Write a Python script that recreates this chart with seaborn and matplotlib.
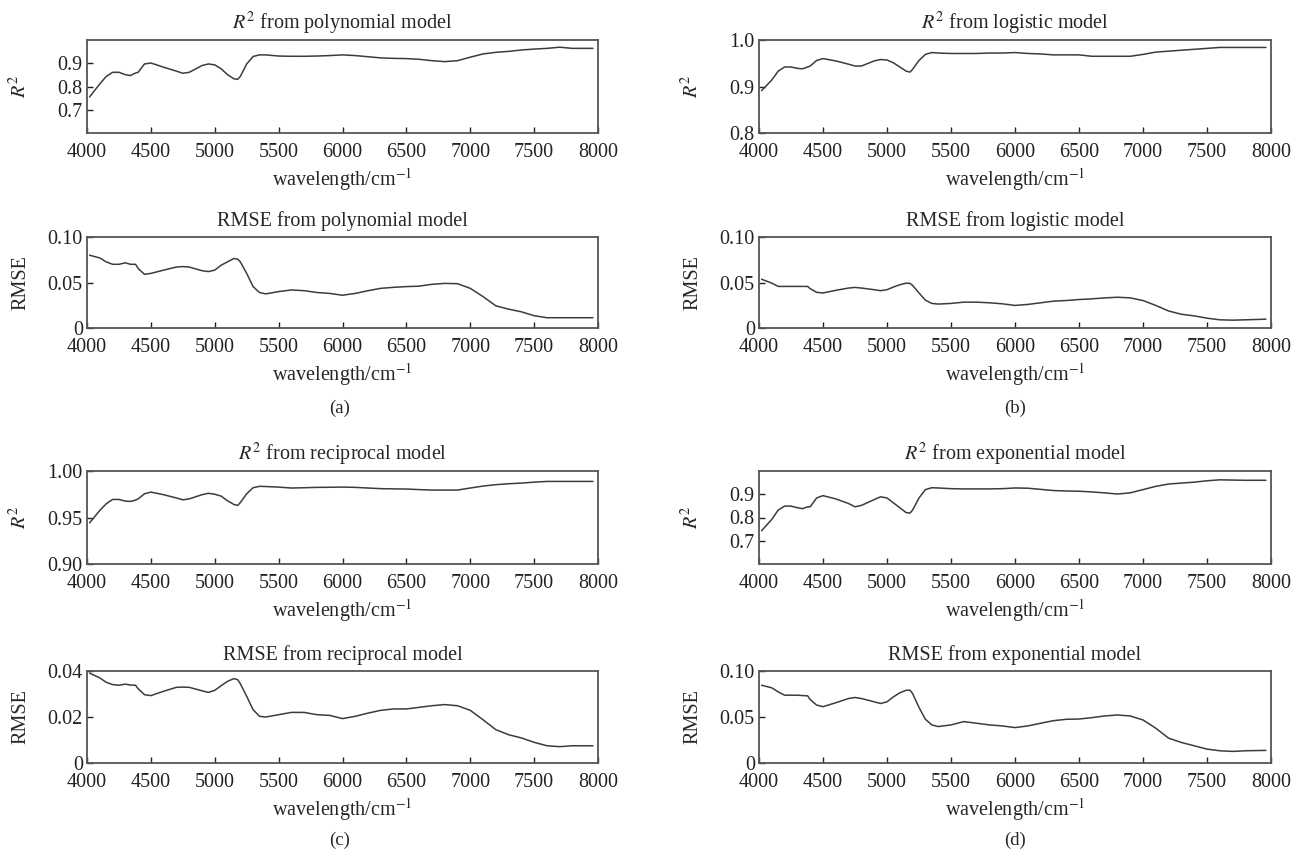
import matplotlib
matplotlib.use("Agg")
import matplotlib.pyplot as plt
import seaborn as sns
import pandas as pd

# ---------------- data ----------------
wavelength = [4020, 4100, 4150, 4200, 4250, 4300, 4340, 4380, 4400, 4450, 4500, 4600,
              4700, 4750, 4800, 4900, 4950, 5000, 5050, 5100, 5150, 5180, 5200, 5250,
              5300, 5350, 5400, 5500, 5600, 5700, 5800, 5900, 6000, 6100, 6200, 6300,
              6400, 6500, 6600, 6700, 6800, 6900, 7000, 7100, 7200, 7300, 7400, 7500,
              7600, 7700, 7800, 7960]

r2_polynomial = [.755, .811, .843, .861, .861, .851, .847, .858, .861, .897, .901, .883,
                 .866, .857, .861, .890, .897, .893, .876, .851, .833, .831, .843, .897,
                 .929, .936, .936, .931, .930, .930, .931, .933, .936, .933, .928, .923,
                 .921, .920, .917, .911, .907, .911, .926, .940, .947, .951, .957, .961,
                 .964, .969, .964, .964]
rmse_polynomial = [.080, .077, .0727, .070, .070, .0716, .070, .070, .0655, .059, .060, .0636,
                   .067, .0675, .067, .063, .062, .0636, .069, .0727, .0764, .0756, .0727, .060,
                   .0455, .039, .0375, .040, .0418, .041, .039, .038, .036, .038, .041, .0436,
                   .0447, .0455, .046, .048, .049, .0487, .0436, .0345, .0244, .0207, .0178, .0135,
                   .0113, .0113, .0113, .0113]

r2_logistic = [.891, .914, .933, .942, .942, .939, .938, .942, .944, .956, .960, .955,
               .948, .944, .944, .955, .958, .957, .951, .942, .933, .931, .937, .956,
               .969, .973, .972, .971, .971, .971, .972, .972, .973, .971, .970, .968,
               .968, .968, .965, .965, .965, .965, .969, .974, .976, .978, .980, .982,
               .984, .984, .984, .984]
rmse_logistic = [.0536, .0493, .0457, .0457, .0457, .0457, .0457, .0457, .0432, .0392, .0385, .0414,
                 .0439, .0446, .0439, .0421, .041, .0421, .045, .0475, .0493, .049, .0468, .0385,
                 .0306, .027, .0263, .027, .0284, .0284, .0277, .0266, .0248, .0259, .0277, .0295,
                 .0302, .0313, .032, .0331, .0338, .0331, .0302, .0248, .0187, .0151, .0133, .0108,
                 .009, .0086, .009, .0097]

r2_reciprocal = [.9442, .9576, .9647, .9694, .9694, .9676, .9673, .9687, .970, .9755, .9773, .9745,
                 .971, .969, .970, .9745, .976, .975, .973, .968, .964, .963, .966, .9755,
                 .982, .9835, .9833, .9827, .9817, .982, .9824, .9825, .9827, .9824, .9817, .981,
                 .9808, .9806, .980, .9795, .9795, .9795, .9817, .9838, .9853, .9863, .987, .988,
                 .9888, .9888, .9888, .9888]
rmse_reciprocal = [.0391, .0370, .0351, .0341, .0338, .0343, .0339, .0338, .0323, .0297, .0293, .0312,
                   .0329, .0330, .0329, .0314, .0307, .0316, .0336, .0355, .0367, .0362, .0345, .0290,
                   .0232, .0203, .0200, .0210, .0220, .0220, .0210, .0207, .0193, .0203, .0217, .0229,
                   .0235, .0235, .0242, .0249, .0254, .0249, .0229, .0188, .0145, .0123, .0109, .0090,
                   .0075, .0071, .0075, .0075]

r2_exponential = [.743, .792, .832, .849, .849, .842, .838, .846, .846, .884, .894, .880,
                  .860, .846, .852, .877, .889, .884, .863, .842, .821, .819, .832, .884,
                  .920, .928, .927, .924, .923, .923, .923, .924, .927, .926, .921, .916,
                  .914, .913, .910, .906, .901, .906, .920, .934, .944, .948, .952, .958,
                  .962, .961, .960, .960]
rmse_exponential = [.0845, .0817, .0773, .0737, .0737, .0737, .0733, .073, .069, .063, .0612, .0655,
                    .0701, .0712, .0701, .0665, .0647, .0665, .0719, .0763, .0791, .0791, .0755, .0604,
                    .0475, .0414, .0396, .0414, .045, .0432, .0414, .0403, .0385, .0403, .0432, .046,
                    .0475, .0478, .0493, .0511, .0522, .0511, .0468, .0378, .027, .0223, .0187, .0151,
                    .0133, .0126, .0133, .0137]

x_ticks = [4000, 4500, 5000, 5500, 6000, 6500, 7000, 7500, 8000]
panel_labels = ["(a)", "(b)", "(c)", "(d)"]

# ---------------- style ----------------
sns.set_style("ticks")
plt.rcParams["font.family"] = ["Liberation Serif", "DejaVu Serif"]
plt.rcParams["mathtext.fontset"] = "stix"
plt.rcParams["xtick.direction"] = "in"
plt.rcParams["ytick.direction"] = "in"

FS = 14.5
LINE_COLOR = "#3c3c3c"
SPINE_COLOR = "#555555"

fig = plt.figure(figsize=(13, 8.6), dpi=100)

W, H = 1300.0, 860.0
cols = [(87, 511), (759, 512)]
rows = [(40, 133), (237, 328), (471, 564), (671, 763)]

def rect(col, row):
    x0, w = cols[col]
    top, bot = rows[row]
    return [x0 / W, 1 - bot / H, w / W, (bot - top) / H]

panels = [
    # (col, row, y, title, ylabel, ylim, yticks, yticklabels)
    (0, 0, r2_polynomial, r"$R^2$ from polynomial model", r"$R^2$", (0.6, 1.0), [0.7, 0.8, 0.9], ["0.7", "0.8", "0.9"]),
    (0, 1, rmse_polynomial, "RMSE from polynomial model", "RMSE", (0, 0.1), [0, 0.05, 0.1], ["0", "0.05", "0.10"]),
    (1, 0, r2_logistic, r"$R^2$ from logistic model", r"$R^2$", (0.8, 1.0), [0.8, 0.9, 1.0], ["0.8", "0.9", "1.0"]),
    (1, 1, rmse_logistic, "RMSE from logistic model", "RMSE", (0, 0.1), [0, 0.05, 0.1], ["0", "0.05", "0.10"]),
    (0, 2, r2_reciprocal, r"$R^2$ from reciprocal model", r"$R^2$", (0.9, 1.0), [0.9, 0.95, 1.0], ["0.90", "0.95", "1.00"]),
    (0, 3, rmse_reciprocal, "RMSE from reciprocal model", "RMSE", (0, 0.04), [0, 0.02, 0.04], ["0", "0.02", "0.04"]),
    (1, 2, r2_exponential, r"$R^2$ from exponential model", r"$R^2$", (0.6, 1.0), [0.7, 0.8, 0.9], ["0.7", "0.8", "0.9"]),
    (1, 3, rmse_exponential, "RMSE from exponential model", "RMSE", (0, 0.1), [0, 0.05, 0.1], ["0", "0.05", "0.10"]),
]

for col, row, yvals, title, ylabel, ylim, yticks, yticklabels in panels:
    ax = fig.add_axes(rect(col, row))
    df = pd.DataFrame({"wavelength": wavelength, "value": yvals})
    sns.lineplot(data=df, x="wavelength", y="value", ax=ax, color=LINE_COLOR, linewidth=1.1)
    ax.set_xlim(4000, 8000)
    ax.set_ylim(*ylim)
    ax.set_xticks(x_ticks)
    ax.set_xticklabels([str(t) for t in x_ticks], fontsize=FS)
    ax.set_yticks(yticks)
    ax.set_yticklabels(yticklabels, fontsize=FS)
    ax.tick_params(length=4, width=1, colors="#222222")
    ax.tick_params(axis="x", pad=7)
    ax.tick_params(axis="y", pad=3)
    for s in ax.spines.values():
        s.set_color(SPINE_COLOR)
        s.set_linewidth(1.3)
        s.set_visible(True)
    ax.set_title(title, fontsize=FS, pad=8)
    ax.set_xlabel(r"wavelength/cm$^{-1}$", fontsize=FS, labelpad=3)
    ax.set_ylabel(ylabel, fontsize=FS)
    ax.yaxis.set_label_coords(-0.11, 0.5)

label_pos = [(340, 408), (1015, 408), (340, 840), (1015, 840)]
for lab, (px, py) in zip(panel_labels, label_pos):
    fig.text(px / W, 1 - py / H, lab, fontsize=FS - 1, ha="center", va="center")

fig.savefig("out.png", dpi=100)
